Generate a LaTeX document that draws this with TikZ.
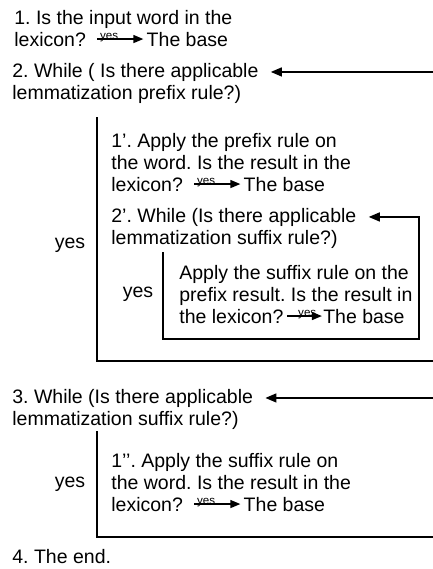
\documentclass[tikz,border=0pt]{standalone}
\usepackage{fontspec}
\setmainfont{Liberation Sans}
\usetikzlibrary{arrows.meta, positioning}

\begin{document}
\frenchspacing
\begin{tikzpicture}[
  x=0.5pt, y=-0.5pt,
  txt/.style={inner sep=0pt, anchor=base west, align=left,
              font=\fontsize{9.75pt}{11pt}\selectfont},
  lbl/.style={inner sep=0pt, font=\fontsize{9.75pt}{11pt}\selectfont},
  yeslbl/.style={inner sep=0pt, anchor=base, yshift=-0.2pt,
                 font=\fontsize{5.8pt}{6pt}\selectfont},
  yesarr/.style={-{Triangle[length=5pt, width=4pt]}, line width=0.7pt,
                 shorten <=5.5pt, shorten >=1.5pt},
  loopline/.style={-{Triangle[length=5.5pt, width=4.5pt]}, line width=0.75pt,
                   shorten >=6pt}
]
\useasboundingbox (0,0) rectangle (433,569);
\clip (0,0) rectangle (433,569);

%% -- step 1 ------------------------------------------------------------------
\node[txt] (s1)  at (14,24) {1. Is the input word in the};
\node[txt] (s1q) at (14,46) {lexicon?};
\node[txt, base right=30pt of s1q] (b1) {The base};
\draw[yesarr] (s1q.east) -- (s1q.east -| b1.west) node[yeslbl, pos=0.38] {yes};

%% -- step 2: prefix loop -----------------------------------------------------
% (two-line nodes sit on the baseline of their last line)
\node[txt] (w2)  at (12,77) {2. While ( Is there applicable};
\node[txt] (w2r) at (12,99) {lemmatization prefix rule?)};
\node[lbl] (y2)  at (70,245) {yes};

\node[txt] (a1)  at (111,169) {1’. Apply the prefix rule on\\the word. Is the result in the};
\node[txt] (a1q) at (111,191) {lexicon?};
\node[txt, base right=30pt of a1q] (b2) {The base};
\draw[yesarr] (a1q.east) -- (a1q.east -| b2.west) node[yeslbl, pos=0.38] {yes};

\node[txt] (w2p)  at (111,222) {2’. While (Is there applicable};
\node[txt] (w2pr) at (111,244) {lemmatization suffix rule?)};
\node[lbl] (y2p)  at (138,294) {yes};

\node[txt] (a2)  at (179,301) {Apply the suffix rule on the\\prefix result. Is the result in};
\node[txt] (a2q) at (179,323) {the lexicon?};
\node[txt, base right=19.5pt of a2q] (b3) {The base};
\draw[yesarr, shorten <=1.5pt, shorten >=0.5pt] (a2q.east) -- (a2q.east -| b3.west)
  node[yeslbl, pos=0.6] {yes};

% loop frames, closed off past the right edge
\coordinate (rim) at (440,0);
\coordinate (rin) at (419,0);
\coordinate (l2t)  at (97,117);
\coordinate (l2b)  at (97,361);
\coordinate (l2pt) at (163,252);
\coordinate (l2pb) at (163,339);
\draw[loopline] (l2t) -- (l2b) -| (rim |- w2.east) -- (w2.east);
\draw[loopline] (l2pt) -- (l2pb) -| (rin |- w2p.east) -- (w2p.east);

%% -- step 3: suffix loop -----------------------------------------------------
\node[txt] (w3)  at (12,403) {3. While (Is there applicable};
\node[txt] (w3r) at (12,425) {lemmatization suffix rule?)};
\node[lbl] (y3)  at (70,484) {yes};

\node[txt] (a3)  at (111,489) {1’’. Apply the suffix rule on\\the word. Is the result in the};
\node[txt] (a3q) at (111,511) {lexicon?};
\node[txt, base right=30pt of a3q] (b4) {The base};
\draw[yesarr] (a3q.east) -- (a3q.east -| b4.west) node[yeslbl, pos=0.38] {yes};

\coordinate (l3t) at (97,431);
\coordinate (l3b) at (97,537);
\draw[loopline] (l3t) -- (l3b) -| (rim |- w3.east) -- (w3.east);

%% -- step 4 ------------------------------------------------------------------
\node[txt] (fin) at (12,563) {4. The end.};

\end{tikzpicture}
\end{document}
